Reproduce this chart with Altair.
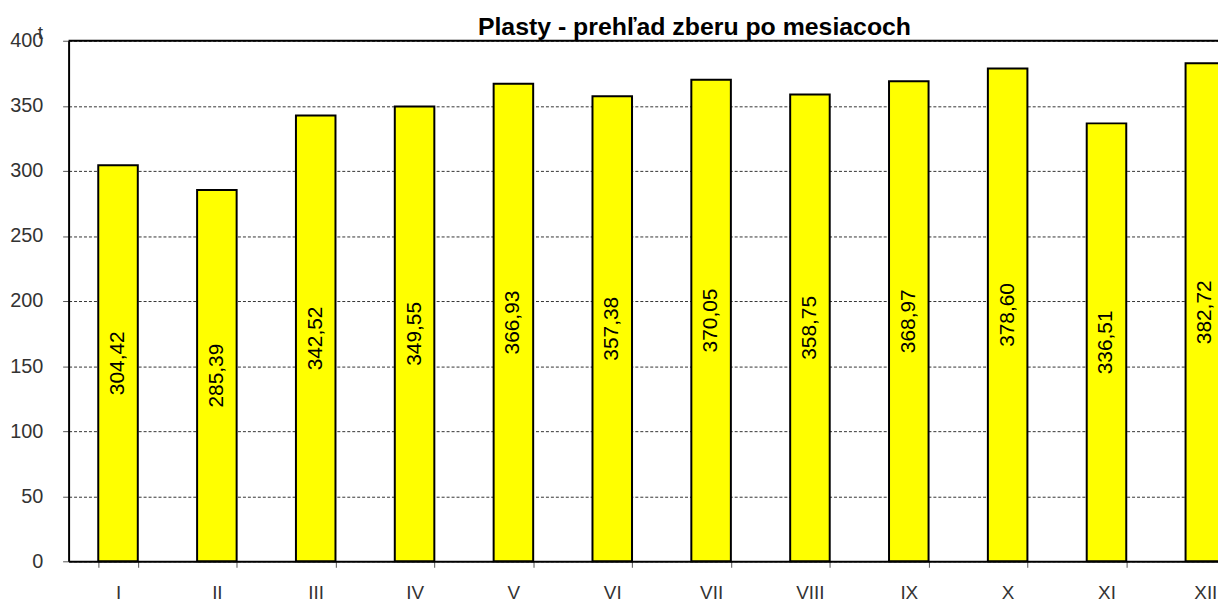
import altair as alt
import pandas as pd

months = ["I", "II", "III", "IV", "V", "VI", "VII", "VIII", "IX", "X", "XI", "XII"]
values = [304.42, 285.39, 342.52, 349.55, 366.93, 357.38, 370.05, 358.75, 368.97, 378.60, 336.51, 382.72]
y_ticks = [0, 50, 100, 150, 200, 250, 300, 350, 400]
title_text = "Plasty - prehľad zberu po mesiacoch"

df = pd.DataFrame({"mesiac": months, "t": values})
one = pd.DataFrame({"k": [0]})

FONT = "Liberation Sans"
PLOT_W = 1157
FULL_W = 1194
PLOT_H = 524

x_enc = alt.X(
    "mesiac:N",
    sort=months,
    scale=alt.Scale(range=[0, FULL_W], paddingInner=0.6, paddingOuter=0.3),
    axis=alt.Axis(
        title=None,
        labelAngle=0,
        labelFont=FONT,
        labelFontSize=19,
        labelColor="#333333",
        labelPadding=16,
        tickBand="extent",
        tickSize=6,
        tickColor="#555555",
        domainColor="#000000",
        domainWidth=2,
        grid=False,
    ),
)

y_scale = alt.Scale(domain=[0, 400], nice=False)

bars = alt.Chart(df).mark_bar(color="#FFFF00", stroke="#000000", strokeWidth=2).encode(
    x=x_enc,
    y=alt.Y(
        "t:Q",
        scale=y_scale,
        axis=alt.Axis(
            values=y_ticks,
            title="t",
            titleAngle=0,
            titleX=-29,
            titleY=-17,
            titleAlign="center",
            titleBaseline="top",
            titleFont=FONT,
            titleFontSize=19,
            titleFontWeight="normal",
            titleColor="#333333",
            labelFont=FONT,
            labelFontSize=20,
            labelColor="#333333",
            labelPadding=20,
            tickSize=6,
            tickColor="#555555",
            domainColor="#000000",
            domainWidth=2,
            grid=True,
            gridColor="#333333",
            gridDash=[3, 2],
            gridWidth=1,
        ),
    ),
)

labels = alt.Chart(df).transform_calculate(
    mid="datum.t / 2",
    lbl="replace(format(datum.t, '.2f'), '.', ',')",
).mark_text(angle=270, align="center", baseline="middle", font=FONT, fontSize=21, color="#000000").encode(
    x=alt.X("mesiac:N", sort=months),
    y=alt.Y("mid:Q", scale=y_scale),
    text="lbl:N",
)

top_line = alt.Chart(one).mark_rule(color="#000000", strokeWidth=2).encode(
    x=alt.value(0), x2=alt.value(FULL_W), y=alt.value(0)
)

title = alt.Chart(one).mark_text(
    font=FONT, fontSize=25, fontWeight="bold", color="#000000", align="center", baseline="alphabetic"
).encode(
    x=alt.value(630), y=alt.value(-6), text=alt.value(title_text)
)

chart = alt.layer(bars, labels, top_line, title).properties(
    width=PLOT_W,
    height=PLOT_H,
    autosize=alt.AutoSizeParams(type="none"),
    padding={"left": 61, "top": 31, "right": 0, "bottom": 40},
).configure_view(stroke=None)

chart.save("out.html", embed_options={"renderer": "svg", "actions": False})
